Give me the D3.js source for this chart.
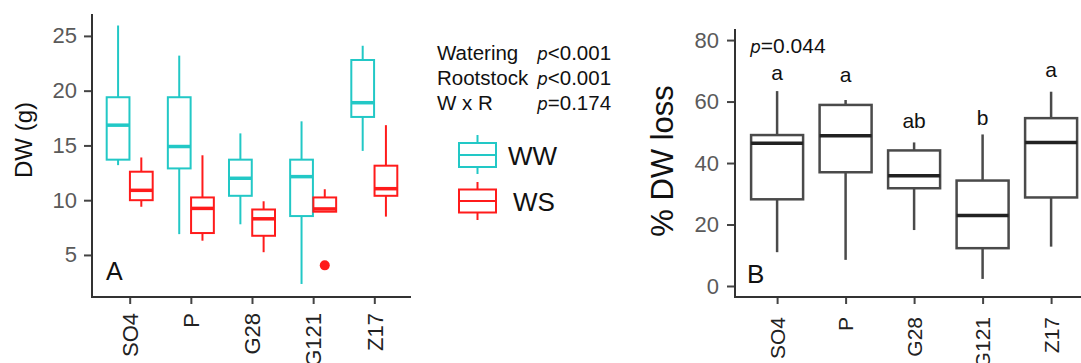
<!DOCTYPE html>
<html><head><meta charset="utf-8">
<script src="https://cdn.jsdelivr.net/npm/d3@7"></script>
<style>
html,body{margin:0;padding:0;background:#fff;}
svg text{font-family:"Liberation Sans",Arial,sans-serif;}
</style></head>
<body><svg id="chart" width="1081" height="363"></svg>
<script>
// ---------- data ----------
const categories = ["SO4","P","G28","G121","Z17"];
const groups = ["WW","WS"];
// Panel A: dry weight (g)  [min, q1, median, q3, max]
const wwMin = [13.2, 6.9, 7.8, 2.35, 14.5];
const wwQ1  = [13.7, 12.9, 10.4, 8.55, 17.6];
const wwMed = [16.85, 14.9, 12.0, 12.15, 18.9];
const wwQ3  = [19.4, 19.4, 13.7, 13.7, 22.8];
const wwMax = [25.95, 23.2, 16.1, 17.2, 24.1];
const wsMin = [9.4, 6.3, 5.25, 8.95, 8.5];
const wsQ1  = [10.0, 7.0, 6.75, 8.95, 10.4];
const wsMed = [10.9, 9.25, 8.3, 9.2, 11.05];
const wsQ3  = [12.6, 10.25, 9.15, 10.25, 13.15];
const wsMax = [13.9, 14.1, 9.9, 11.0, 16.85];
const outliers = [{cat:"G121", group:"WS", value:4.05}];
const dwTicks = [5,10,15,20,25];
// Panel B: % DW loss
const lossMin = [11.0, 8.5, 18.2, 2.3, 12.8];
const lossQ1  = [28.2, 37.0, 31.8, 12.3, 28.8];
const lossMed = [46.4, 48.9, 35.9, 22.9, 46.7];
const lossQ3  = [49.1, 58.9, 44.1, 34.3, 54.6];
const lossMax = [63.4, 60.5, 46.7, 49.3, 63.2];
const lossLetters = ["a","a","ab","b","a"];
const letterY = [67.0, 66.3, 51.4, 52.4, 68.0];
const lossTicks = [0,20,40,60,80];
const statLabels = ["Watering","Rootstock","W x R"];
const statValues = ["<0.001","<0.001","=0.174"];
const pB = "=0.044";

const colors = {WW:"#22C8C6", WS:"#FF1B1B"};
const svg = d3.select("#chart");
const FONT = '"Liberation Sans",Arial,sans-serif';

// ---------- Panel A ----------
const A = {left:92, right:411, top:14, bottom:297};
const xA = d3.scalePoint().domain(categories).range([A.left+1, A.right]).padding(0.6);
const yA = d3.scaleLinear().domain([1.16, 27.0]).range([A.bottom, A.top]);
const dodge = d3.scaleBand().domain(groups).range([-23, 23]).paddingInner(0.02);

const gA = svg.append("g");
const axisColor = "#333";
// axes
const yAxA = gA.append("g").attr("transform",`translate(${A.left},0)`)
  .call(d3.axisLeft(yA).tickValues(dwTicks).tickSize(8).tickPadding(7).tickSizeOuter(0));
const xAxA = gA.append("g").attr("transform",`translate(0,${A.bottom})`)
  .call(d3.axisBottom(xA).tickSize(7).tickSizeOuter(0));
[yAxA,xAxA].forEach(g=>{
  g.select(".domain").remove();
  g.selectAll("line").attr("stroke","#444").attr("stroke-width",2);
});
yAxA.selectAll("text").attr("font-size",22).attr("fill","#5a5a5a").attr("font-family",FONT);
xAxA.selectAll("text").attr("font-size",22).attr("fill","#222").attr("font-family",FONT)
  .attr("text-anchor","end").attr("transform","rotate(-90)")
  .attr("x",-16).attr("y",0).attr("dy","0.35em");
gA.append("path").attr("d",`M${A.left},${A.top}V${A.bottom}H${A.right}`)
  .attr("fill","none").attr("stroke",axisColor).attr("stroke-width",2);

const boxesA = [];
categories.forEach((c,i)=>{
  boxesA.push({cat:c, group:"WW", min:wwMin[i], q1:wwQ1[i], med:wwMed[i], q3:wwQ3[i], max:wwMax[i]});
  boxesA.push({cat:c, group:"WS", min:wsMin[i], q1:wsQ1[i], med:wsMed[i], q3:wsQ3[i], max:wsMax[i]});
});
const bw = dodge.bandwidth();
const bA = gA.selectAll("g.box").data(boxesA).join("g")
  .attr("transform", d=>`translate(${xA(d.cat)+dodge(d.group)},0)`);
bA.each(function(d){
  const g = d3.select(this), col = colors[d.group], cx = bw/2;
  g.append("line").attr("x1",cx).attr("x2",cx).attr("y1",yA(d.max)).attr("y2",yA(d.q3)).attr("stroke",col).attr("stroke-width",2);
  g.append("line").attr("x1",cx).attr("x2",cx).attr("y1",yA(d.q1)).attr("y2",yA(d.min)).attr("stroke",col).attr("stroke-width",2);
  g.append("rect").attr("x",0).attr("width",bw).attr("y",yA(d.q3)).attr("height",yA(d.q1)-yA(d.q3))
    .attr("fill","#fff").attr("stroke",col).attr("stroke-width",2);
  g.append("line").attr("x1",0).attr("x2",bw).attr("y1",yA(d.med)).attr("y2",yA(d.med)).attr("stroke",col).attr("stroke-width",3.5);
});
gA.selectAll("circle.out").data(outliers).join("circle")
  .attr("cx",d=>xA(d.cat)+dodge(d.group)+bw/2).attr("cy",d=>yA(d.value)).attr("r",5).attr("fill",colors.WS);
gA.append("text").attr("x",106).attr("y",280).attr("font-size",25).attr("fill","#111").text("A");
gA.append("text").attr("transform","translate(32,140) rotate(-90)").attr("text-anchor","middle")
  .attr("font-size",24).attr("fill","#111").text("DW (g)");

// stats text
const stat = svg.append("g");
statLabels.forEach((s,i)=>{
  stat.append("text").attr("x",437).attr("y",60+i*25).attr("font-size",20.5).attr("fill","#111").text(s);
  const t = stat.append("text").attr("x",537).attr("y",60+i*25).attr("font-size",20.5).attr("fill","#111");
  t.append("tspan").attr("font-style","italic").attr("font-family","DejaVu Sans").attr("font-size",17).attr("font-weight",200).text("p");
  t.append("tspan").text(statValues[i]);
});

// legend
const leg = svg.append("g");
const legItems = [{g:"WW", cy:155, h:24, wt:135, wb:174, tx:508},
                  {g:"WS", cy:201, h:23, wt:182, wb:220, tx:513}];
legItems.forEach(it=>{
  const col = colors[it.g];
  leg.append("line").attr("x1",477.5).attr("x2",477.5).attr("y1",it.wt).attr("y2",it.wb).attr("stroke",col).attr("stroke-width",2);
  leg.append("rect").attr("x",459).attr("width",37).attr("y",it.cy-it.h/2).attr("height",it.h)
    .attr("fill","#fff").attr("stroke",col).attr("stroke-width",2);
  leg.append("line").attr("x1",459).attr("x2",496).attr("y1",it.cy).attr("y2",it.cy).attr("stroke",col).attr("stroke-width",2);
  leg.append("text").attr("x",it.tx).attr("y",it.cy+10).attr("font-size",26).attr("fill","#111").text(it.g);
});

// ---------- Panel B ----------
const B = {left:735, right:1081, top:29, bottom:297};
const xB = d3.scalePoint().domain(categories).range([B.left+1, B.left+1+5.2*68.5]).padding(0.6);
const yB = d3.scaleLinear().domain([-3.58, 83.6]).range([B.bottom, B.top]);
const gB = svg.append("g");
const yAxB = gB.append("g").attr("transform",`translate(${B.left},0)`)
  .call(d3.axisLeft(yB).tickValues(lossTicks).tickSize(8).tickPadding(8).tickSizeOuter(0));
const xAxB = gB.append("g").attr("transform",`translate(0,${B.bottom})`)
  .call(d3.axisBottom(xB).tickSize(7).tickSizeOuter(0));
[yAxB,xAxB].forEach(g=>{
  g.select(".domain").remove();
  g.selectAll("line").attr("stroke","#444").attr("stroke-width",2);
});
yAxB.selectAll("text").attr("font-size",22).attr("fill","#5a5a5a").attr("font-family",FONT);
xAxB.selectAll("text").attr("font-size",21).attr("fill","#222").attr("font-family",FONT)
  .attr("text-anchor","end").attr("transform","rotate(-90)")
  .attr("x",-20).attr("y",0).attr("dy","0.35em");
gB.append("path").attr("d",`M${B.left},${B.top}V${B.bottom}H${B.right}`)
  .attr("fill","none").attr("stroke",axisColor).attr("stroke-width",2);

const bwB = 52;
const boxesB = categories.map((c,i)=>({cat:c, min:lossMin[i], q1:lossQ1[i], med:lossMed[i], q3:lossQ3[i], max:lossMax[i], letter:lossLetters[i], ly:letterY[i]}));
const bB = gB.selectAll("g.boxb").data(boxesB).join("g")
  .attr("transform", d=>`translate(${xB(d.cat)},0)`);
bB.each(function(d){
  const g = d3.select(this), col = "#4a4a4a";
  g.append("line").attr("y1",yB(d.max)).attr("y2",yB(d.q3)).attr("stroke",col).attr("stroke-width",2.5);
  g.append("line").attr("y1",yB(d.q1)).attr("y2",yB(d.min)).attr("stroke",col).attr("stroke-width",2.5);
  g.append("rect").attr("x",-bwB/2).attr("width",bwB).attr("y",yB(d.q3)).attr("height",yB(d.q1)-yB(d.q3))
    .attr("fill","#fff").attr("stroke",col).attr("stroke-width",2.5);
  g.append("line").attr("x1",-bwB/2).attr("x2",bwB/2).attr("y1",yB(d.med)).attr("y2",yB(d.med)).attr("stroke","#222").attr("stroke-width",3.5);
  g.append("text").attr("x",0).attr("y",yB(d.ly)).attr("text-anchor","middle").attr("font-size",21).attr("fill","#111").text(d.letter);
});
const pt = gB.append("text").attr("x",750).attr("y",53).attr("font-size",21).attr("fill","#111");
pt.append("tspan").attr("font-style","italic").attr("font-family","DejaVu Sans").attr("font-size",17).attr("font-weight",200).text("p");
pt.append("tspan").text(pB);
gB.append("text").attr("x",747).attr("y",283).attr("font-size",26).attr("fill","#111").text("B");
gB.append("text").attr("transform","translate(673,161) rotate(-90)").attr("text-anchor","middle")
  .attr("font-size",31).attr("fill","#111").text("% DW loss");
</script></body></html>
